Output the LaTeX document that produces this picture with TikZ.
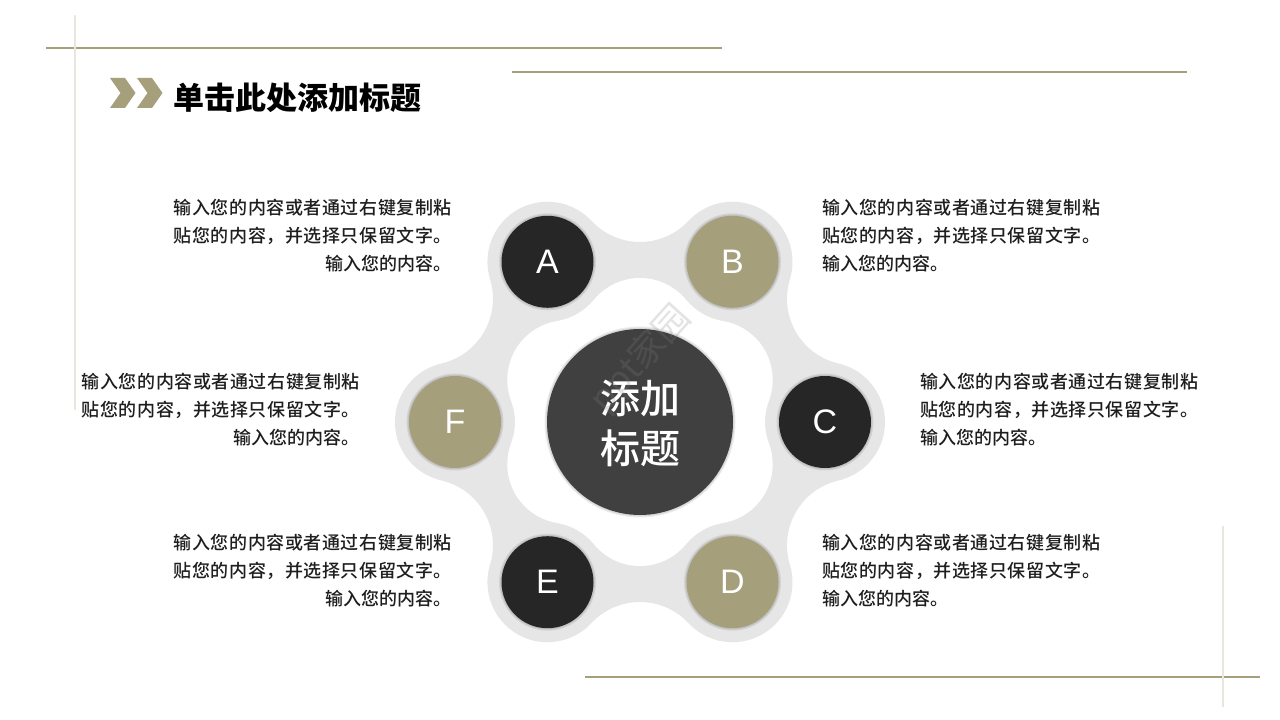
\documentclass[tikz,border=0pt]{standalone}
\usepackage{fontspec}
\setmainfont{Liberation Sans}
\newfontfamily\cjk{Noto Sans CJK SC}
\newfontfamily\cjkm{Noto Sans CJK SC Medium}
\usetikzlibrary{calc}
\definecolor{khaki}{RGB}{165,159,123}
\definecolor{darkc}{RGB}{38,38,38}
\definecolor{centerc}{RGB}{64,64,64}
\definecolor{blob}{RGB}{230,230,230}
\definecolor{txt}{RGB}{30,30,30}
\newcommand\lineone{\makebox[278pt][s]{输\hfil 入\hfil 您\hfil 的\hfil 内\hfil 容\hfil 或\hfil 者\hfil 通\hfil 过\hfil 右\hfil 键\hfil 复\hfil 制\hfil 粘}}
\newcommand\linetwo{\makebox[278pt][s]{贴\hfil 您\hfil 的\hfil 内\hfil 容\hfil ，\hfil 并\hfil 选\hfil 择\hfil 只\hfil 保\hfil 留\hfil 文\hfil 字\hfil 。}}
\newcommand\linethree{输入您的内容。}
\tikzset{
  deco/.style={khaki, line width=1.3pt},
  body/.style={font=\cjkm\fontsize{18}{28}\selectfont, text=txt, inner sep=0pt},
  bubble/.style={circle, minimum size=92pt, inner sep=0pt, text=white, font=\fontsize{34}{34}\selectfont},
  darkbub/.style={bubble, fill=darkc},
  khakibub/.style={bubble, fill=khaki},
  shadowc/.style={fill=black, opacity=0.08},
  chev/.style={fill=khaki}
}
\begin{document}
\begin{tikzpicture}[x=1pt,y=1pt]
\fill[white] (0,0) rectangle (1280,720);
\useasboundingbox (0,0) rectangle (1280,720);

% decorative lines
\draw[deco] (46,672) -- (722,672);
\draw[deco] (512,648) -- (1187,648);
\draw[deco] (585,43) -- (1260,43);
\shade[top color=khaki!25, middle color=khaki, bottom color=khaki!25] (74.3,704) rectangle (75.9,310);
\shade[top color=khaki!25, middle color=khaki, bottom color=khaki!25] (1222.2,193) rectangle (1223.8,13);

% title chevrons
\fill[chev] (110,642) -- (125,642) -- (135.5,627) -- (125,612) -- (110,612) -- (120.5,627) -- cycle;
\fill[chev] (137,642) -- (152,642) -- (162.5,627) -- (152,612) -- (137,612) -- (147.5,627) -- cycle;
\node[anchor=west, inner sep=0pt, font=\cjk\bfseries\fontsize{31}{31}\selectfont] (title) at (173,622) {单击此处添加标题};

\begin{scope}[shift={(640,298)}]
  % gray blob
  \fill[blob] (0:185) ++(-77:60)
    \foreach \t in {0,60,...,300}{
      arc[start angle=\t-77, end angle=\t+77, radius=60]
      arc[start angle=\t+257, end angle=\t+163, radius=66.5]
    } -- cycle;
  \fill[white] (30:84.41) ++(-20.67:59.59)
    \foreach \p in {30,90,...,330}{
      arc[start angle=\p-50.67, end angle=\p+50.67, radius=59.59]
      arc[start angle=\p+230.67, end angle=\p+189.33, radius=60]
    } -- cycle;
  % shadows
  \foreach \a in {0,60,...,300}{
    \fill[shadowc] (\a:185) circle (48.5);
    \fill[shadowc] (\a:185) circle (47.3);
  }
  \fill[shadowc] (0,0) circle (95.5);
  \fill[shadowc] (0,0) circle (94.3);
  % bubbles
  \node[darkbub]  (cA) at (120:185) {A};
  \node[khakibub] (cB) at (60:185) {B};
  \node[darkbub]  (cC) at (0:185) {C};
  \node[khakibub] (cD) at (-60:185) {D};
  \node[darkbub]  (cE) at (-120:185) {E};
  \node[khakibub] (cF) at (180:185) {F};
  \node[circle, fill=centerc, minimum size=186pt, inner sep=0pt] (ctr) at (0,0) {};
  \node[text=white, align=center, inner sep=0pt, font=\cjkm\fontsize{40}{50}\selectfont] (ctrtxt) at (0,-1) {添加\\标题};
\end{scope}

% watermark
\node[rotate=48, text=gray, opacity=0.22, inner sep=0pt, font=\cjk\fontsize{36}{36}\selectfont] (wm) at (641,361) {ppt家园};

% text blocks: A
\node[body, anchor=base east] (a1) at (452,505) {\lineone};
\node[body, anchor=base east] (a2) at (452,477) {\linetwo};
\node[body, anchor=base east] (a3) at (452,449) {\linethree};
% B
\node[body, anchor=base west] (b1) at (822,505) {\lineone};
\node[body, anchor=base west] (b2) at (822,477) {\linetwo};
\node[body, anchor=base west] (b3) at (822,449) {\linethree};
% C
\node[body, anchor=base west] (c1) at (920,331) {\lineone};
\node[body, anchor=base west] (c2) at (920,303) {\linetwo};
\node[body, anchor=base west] (c3) at (920,275) {\linethree};
% F
\node[body, anchor=base east] (f1) at (360,331) {\lineone};
\node[body, anchor=base east] (f2) at (360,303) {\linetwo};
\node[body, anchor=base east] (f3) at (360,275) {\linethree};
% D
\node[body, anchor=base west] (d1) at (822,170) {\lineone};
\node[body, anchor=base west] (d2) at (822,142) {\linetwo};
\node[body, anchor=base west] (d3) at (822,114) {\linethree};
% E
\node[body, anchor=base east] (e1) at (452,170) {\lineone};
\node[body, anchor=base east] (e2) at (452,142) {\linetwo};
\node[body, anchor=base east] (e3) at (452,114) {\linethree};
\end{tikzpicture}
\end{document}
